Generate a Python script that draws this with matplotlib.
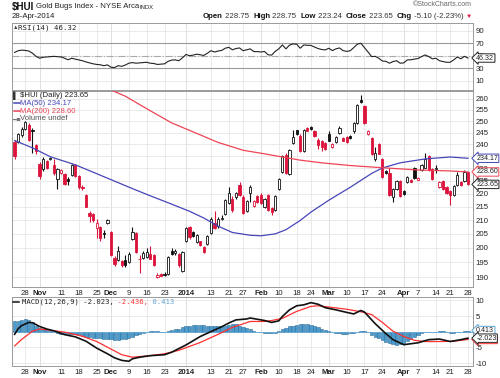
import numpy as np
import pandas as pd
import matplotlib
matplotlib.use("Agg")
import matplotlib.pyplot as plt
import matplotlib.transforms as mtransforms

plt.rcParams['font.family'] = ['Liberation Sans', 'DejaVu Sans']

# trading days shown
holidays = ["2013-11-28", "2013-12-25", "2014-01-01", "2014-01-20", "2014-02-17", "2014-04-18"]
days = pd.bdate_range("2013-10-23", "2014-04-28")
days = days[~days.isin(pd.to_datetime(holidays))]

opens = [241.0, 241.0, 243.8, 246.5, 248.5, 246.3, 239.7, 231.9, 229.6, 233.0,
         234.0, 231.4, 225.6, 228.0, 227.7, 225.8, 227.5, 231.6, 227.0, 222.6,
         219.7, 212.7, 212.4, 207.0, 207.4, 205.4, 208.9, 205.8, 196.5, 195.7,
         195.5, 195.7, 195.2, 203.0, 205.4, 196.2, 196.5, 196.8, 197.7, 197.4,
         189.9, 191.1, 190.8, 191.0, 198.9, 198.2, 197.9, 192.1, 202.3, 207.4,
         205.5, 202.1, 202.3, 200.3, 201.2, 205.2, 209.1, 207.7, 210.3, 212.4,
         216.4, 218.0, 218.7, 223.6, 218.9, 213.4, 220.2, 215.2, 219.0, 219.7,
         214.8, 219.7, 214.7, 213.9, 221.9, 228.4, 235.6, 227.6, 240.6, 245.9,
         243.4, 237.2, 246.9, 247.6, 245.8, 241.7, 241.3, 240.6, 244.4, 238.8,
         240.9, 244.8, 242.7, 243.0, 243.4, 245.5, 249.1, 259.6, 256.6, 244.4,
         242.7, 233.8, 240.2, 233.8, 229.0, 228.0, 218.7, 221.9, 225.0, 221.0,
         224.5, 225.3, 230.3, 225.5, 229.3, 230.3, 235.2, 229.7, 229.7, 222.5,
         225.0, 222.5, 221.2, 219.7, 223.6, 224.7, 225.0, 228.75]
highs = [242.0, 245.0, 247.3, 250.2, 249.0, 246.8, 240.3, 232.5, 234.5, 233.5,
         234.8, 234.0, 230.0, 229.6, 228.0, 226.6, 231.8, 232.0, 227.3, 223.4,
         220.0, 213.5, 212.8, 210.5, 207.8, 206.3, 210.6, 206.0, 197.0, 200.5,
         195.8, 197.5, 198.4, 207.4, 205.8, 197.5, 199.0, 200.0, 200.5, 197.8,
         191.4, 191.4, 191.6, 197.2, 200.0, 199.6, 198.2, 198.9, 207.4, 208.0,
         206.2, 205.0, 202.6, 200.6, 204.7, 211.0, 213.4, 211.0, 211.8, 217.8,
         222.6, 219.0, 220.8, 224.6, 219.5, 217.6, 223.5, 217.5, 219.7, 220.2,
         218.4, 220.0, 215.0, 219.5, 226.0, 235.4, 236.5, 237.9, 246.2, 246.3,
         244.5, 246.6, 247.6, 248.0, 246.2, 242.7, 241.7, 241.0, 245.8, 240.6,
         243.5, 247.7, 243.0, 243.4, 243.8, 249.5, 257.8, 261.8, 257.0, 246.2,
         243.2, 239.0, 240.6, 234.2, 229.5, 230.3, 222.3, 225.4, 225.4, 221.4,
         226.8, 225.6, 230.7, 226.4, 232.0, 236.4, 235.6, 230.0, 231.3, 224.9,
         225.4, 222.9, 221.6, 223.6, 228.4, 225.0, 229.3, 228.75]
lows = [234.0, 240.5, 243.0, 246.0, 241.5, 236.5, 236.0, 225.8, 229.0, 229.6,
        233.3, 227.5, 222.0, 227.6, 223.3, 223.4, 227.0, 226.5, 222.0, 221.3,
        214.8, 209.4, 209.2, 203.5, 202.5, 203.6, 208.5, 197.0, 193.8, 195.3,
        193.3, 193.4, 194.8, 202.7, 198.2, 191.5, 196.2, 196.5, 196.0, 193.6,
        189.6, 190.2, 190.2, 190.8, 197.5, 197.5, 193.5, 191.8, 202.0, 203.3,
        203.8, 201.8, 200.8, 198.3, 200.9, 205.0, 206.7, 207.3, 209.9, 212.0,
        216.0, 213.2, 218.0, 219.2, 212.3, 213.0, 216.8, 214.8, 216.4, 216.2,
        214.4, 213.5, 211.9, 213.5, 221.6, 228.0, 227.8, 227.2, 240.3, 244.1,
        236.8, 236.8, 245.5, 246.2, 243.0, 237.9, 237.2, 237.5, 241.2, 238.4,
        240.5, 244.4, 241.2, 240.6, 242.3, 245.0, 248.7, 258.0, 248.7, 244.0,
        235.4, 233.0, 235.8, 226.3, 227.6, 219.3, 217.0, 221.5, 218.6, 219.5,
        224.1, 224.4, 225.8, 225.2, 229.0, 230.0, 228.9, 225.4, 228.0, 222.2,
        221.5, 219.8, 215.5, 219.3, 223.2, 223.2, 224.6, 223.24]
closes = [235.0, 244.3, 246.7, 249.5, 242.0, 245.6, 237.2, 227.1, 234.0, 230.3,
          234.2, 228.0, 229.7, 229.3, 223.8, 225.1, 231.4, 226.9, 222.5, 222.3,
          215.1, 211.4, 210.0, 208.8, 203.4, 205.0, 210.0, 197.4, 194.3, 198.8,
          194.0, 194.2, 197.9, 205.8, 198.5, 196.0, 198.3, 198.5, 196.3, 194.0,
          190.7, 190.5, 190.7, 196.8, 197.9, 199.0, 193.9, 198.5, 207.0, 203.7,
          204.3, 204.5, 201.1, 198.6, 204.2, 210.6, 207.0, 210.6, 210.8, 217.4,
          220.2, 213.7, 220.2, 219.7, 212.8, 217.2, 222.8, 217.1, 216.8, 216.5,
          218.0, 213.9, 213.1, 219.0, 225.6, 235.0, 228.3, 237.5, 243.0, 244.5,
          237.2, 246.2, 245.8, 246.6, 243.4, 239.7, 238.8, 237.9, 241.6, 240.2,
          243.1, 246.9, 241.6, 241.0, 242.7, 249.1, 257.4, 258.6, 249.1, 245.8,
          235.8, 236.5, 236.1, 226.7, 228.0, 219.7, 221.9, 225.0, 219.0, 219.9,
          226.4, 224.7, 226.2, 226.0, 231.6, 233.9, 229.3, 225.8, 229.8, 224.5,
          221.9, 220.2, 219.7, 223.2, 227.5, 223.6, 228.7, 223.65]

ma50_idx = [0, 5, 10, 17, 24, 33, 38, 44, 49, 53, 57, 61, 66, 69, 73, 76, 80, 83, 88, 94,
            100, 103, 108, 115, 122, 127]
ma50_val = [241.6, 238.5, 234.8, 231.5, 227.3, 222.0, 219.2, 216.0, 213.3, 210.8, 207.8,
            205.5, 204.5, 204.3, 205.0, 206.5, 209.9, 213.0, 217.5, 222.5, 228.0, 230.2,
            232.3, 233.9, 234.7, 234.17]
ma200_idx = [25, 31, 38, 44, 50, 57, 64, 70, 75, 80, 86, 94, 103, 113, 122, 127]
ma200_val = [265.5, 261.2, 254.6, 249.2, 245.3, 240.8, 237.5, 236.0, 234.7, 233.4, 232.3,
             231.2, 230.3, 229.4, 229.0, 228.6]

rsi = [55.3, 58, 59, 58.5, 57.5, 54, 49, 46, 47.5, 48, 48.6, 49, 48.5, 48, 46, 43.5, 46,
       44.5, 43.3, 42, 40, 38.5, 37, 36, 35.5, 34, 35.3, 31.5, 31, 34, 33, 35, 38, 39, 38,
       38.5, 39, 39.5, 38, 37.5, 36, 36.5, 37, 41, 43, 43.3, 42, 46.5, 52, 50, 51, 52.5,
       51.5, 50.5, 54, 58, 56, 57.5, 58.5, 62, 63.5, 59.5, 61.5, 62.5, 58, 59.5, 61, 56.6,
       56.6, 56, 56.8, 51.5, 51, 57, 61, 67.3, 61, 67, 69, 68.5, 62, 67.3, 66.8, 66.5, 64,
       61.5, 60, 59.3, 62, 58.2, 61, 62.5, 58.2, 57, 58, 63, 68.5, 70, 63, 56, 48.6, 49,
       46, 41.5, 41, 38, 40.6, 42, 38, 38.5, 43.3, 43.5, 44.6, 45.5, 48.6, 51.3, 48.6, 45,
       46, 42, 40.6, 39.5, 39.5, 43.3, 48, 45, 49, 46.32]

macd_idx = [0, 1, 2, 4, 5, 7, 9, 11, 14, 17, 20, 23, 26, 28, 30, 32, 33, 35, 38, 42,
            44, 48, 52, 56, 58, 60, 62, 65, 66, 70, 72, 74, 75, 77, 79, 81, 83, 85, 87, 90,
            93, 95, 97, 98, 101, 104, 106, 109, 111, 113, 116, 119, 122, 125, 127]
macd_val = [-0.8, 1.0, 2.0, 3.0, 2.9, 1.7, 0.9, 0.3, -0.9, -1.6, -3.0, -5.2, -7.0, -8.3,
            -9.1, -9.4, -8.6, -8.1, -7.6, -7.3, -6.5, -4.2, -1.5, 0.6, 1.6, 2.8, 3.8, 4.1,
            4.4, 3.6, 3.0, 3.5, 4.9, 7.0, 8.3, 8.6, 9.3, 8.8, 7.7, 7.0, 6.2, 5.7, 6.8, 6.3,
            2.6, -0.6, -2.5, -4.1, -3.8, -3.5, -2.5, -2.3, -3.1, -2.5, -2.023]
sig_idx = [0, 2, 5, 7, 10, 14, 19, 23, 27, 30, 33, 38, 42, 46, 52, 57, 61, 66, 70, 72,
           75, 79, 83, 85, 88, 93, 97, 100, 103, 106, 109, 112, 115, 119, 123, 127]
sig_val = [-4.5, -2.4, 0.2, 0.9, 0.5, -0.1, -1.4, -3.1, -5.5, -7.3, -8.1, -7.6, -7.0, -5.9,
           -3.4, -0.8, 1.4, 3.3, 3.3, 3.6, 4.3, 6.5, 8.1, 8.3, 7.9, 7.2, 6.4, 5.5, 3.0, 0.2,
           -1.5, -2.7, -3.1, -3.1, -3.0, -2.436]
hist = [3.3, 3.5, 3.9, 4.2, 3.8, 3.0, 2.0, 1.3, 0.9, 0.5, 0.2, -0.2, -0.4, -0.6, -0.7, -0.7,
        -0.7, -0.8, -0.9, -1.2, -1.5, -1.7, -1.9, -2.0, -2.1, -2.2, -2.3, -2.4, -2.5, -2.5,
        -2.4, -2.3, -2.0, -1.5, -1.0, -0.6, -0.3, 0.1, 0.3, 0.3, 0.2, 0.1, 0.0, 0.3, 0.6, 0.8,
        1.0, 1.4, 1.7, 1.9, 2.1, 2.2, 2.2, 2.1, 2.0, 1.8, 1.7, 1.7, 1.8, 1.9, 2.2, 2.5, 2.4,
        2.0, 1.5, 1.2, 0.8, 0.4, 0.0, -0.2, -0.4, -0.5, -0.5, -0.3, 0.3, 0.8, 1.3, 1.7, 2.0,
        2.2, 2.4, 2.5, 2.4, 2.2, 1.9, 1.5, 1.0, 0.6, 0.2, -0.2, -0.4, -0.5, -0.6, -0.6, -0.5,
        -0.3, 0.1, 0.4, 0.3, -0.2, -0.9, -1.5, -2.1, -2.7, -3.2, -3.6, -3.9, -4.1, -4.0, -3.6,
        -3.0, -2.4, -1.8, -1.0, -0.5, -0.1, 0.1, 0.1, 0.1, 0.3, 0.2, -0.1, -0.4, -0.4, -0.2,
        0.1, 0.3, 0.413]

tick_dates = ["2013-10-28", "2013-11-01", "2013-11-11", "2013-11-18", "2013-11-25",
              "2013-12-02", "2013-12-09", "2013-12-16", "2013-12-23", "2014-01-02",
              "2014-01-13", "2014-01-21", "2014-01-27", "2014-02-03", "2014-02-10",
              "2014-02-18", "2014-02-24", "2014-03-03", "2014-03-10", "2014-03-17",
              "2014-03-24", "2014-04-01", "2014-04-07", "2014-04-14", "2014-04-21",
              "2014-04-28"]
tick_labels = ["28", "Nov", "11", "18", "25", "Dec", "9", "16", "23", "2014", "13", "21",
               "27", "Feb", "10", "18", "24", "Mar", "10", "17", "24", "Apr", "7", "14",
               "21", "28"]
month_labels = ["Nov", "Dec", "2014", "Feb", "Mar", "Apr"]
price_ticks = list(range(190, 265, 5))

RED = '#dc143c'
BLUE = '#4646b8'
RED2 = '#ee4455'
GRID = '#e6e6e6'
MGRID = '#bdbdbd'
FS = 5.6

W, H = 500, 378
fig = plt.figure(figsize=(W / 100, H / 100), dpi=100)


def px_axes(l, t, r, b):
    return fig.add_axes([l / W, 1 - b / H, (r - l) / W, (b - t) / H])


def ftext(x, y, s, **kw):
    return fig.text(x / W, 1 - y / H, s, va='center', **kw)


ax_r = px_axes(12, 23, 473, 90)
ax_p = px_axes(12, 91, 473, 287)
ax_m = px_axes(12, 297, 473, 366)

x = np.arange(len(closes))
tick_pos = [days.get_loc(pd.Timestamp(d)) for d in tick_dates]
month_pos = [p for p, lab in zip(tick_pos, tick_labels) if lab in month_labels]

for ax in (ax_r, ax_p, ax_m):
    ax.set_xlim(-0.73, 128.4)
    ax.set_xticks(tick_pos)
    ax.grid(axis='x', color=GRID, lw=0.6)
    for p in month_pos:
        ax.axvline(p, color=MGRID, lw=0.6, zorder=0.8)
    ax.yaxis.tick_right()
    ax.tick_params(axis='both', length=0, labelsize=FS, colors='#222222', pad=2)
    for s in ax.spines.values():
        s.set_color('#9a9a9a')
        s.set_linewidth(0.7)
    if ax is ax_r:
        ax.set_xticklabels([])
    else:
        ax.set_xticklabels(tick_labels)
        for t in ax.get_xticklabels():
            if t.get_text() in month_labels:
                t.set_fontweight('bold')

blend = lambda ax: mtransforms.blended_transform_factory(ax.transAxes, ax.transData)


def tag(ax, y, s, ec):
    ax.text(1.007, y, s, transform=blend(ax), ha='left', va='center', fontsize=5.1,
            color='#222222', clip_on=False, zorder=6,
            bbox=dict(boxstyle='larrow,pad=0.1', fc='white', ec=ec, lw=0.7))


# ---- RSI panel
ax_r.set_ylim(-5, 102.5)
ax_r.set_yticks([10, 30, 50, 70, 90])
ax_r.grid(axis='y', color=GRID, lw=0.6)
ax_r.axhline(70, color='#9a9a9a', lw=0.8)
ax_r.axhline(30, color='#9a9a9a', lw=0.8)
ax_r.axhline(50, color='#aaaaaa', lw=0.8, ls='-.')
ax_r.plot(x, rsi, color='#222222', lw=0.8)
tag(ax_r, rsi[-1], "46.32", '#222222')
ax_r.text(0.002, 0.93, "\u25b2", transform=ax_r.transAxes, fontsize=4, color='#444444',
          va='center')
ax_r.text(0.014, 0.93, "RSI(14) 46.32", transform=ax_r.transAxes, fontsize=5.3,
          family='DejaVu Sans Mono', va='center', color='#222222')

# ---- price panel
ax_p.set_yscale('log')
ax_p.set_ylim(186.7, 263.6)
ax_p.set_yticks(price_ticks)
ax_p.set_yticklabels([str(v) for v in price_ticks])
ax_p.yaxis.set_minor_locator(matplotlib.ticker.NullLocator())
ax_p.grid(axis='y', color=GRID, lw=0.6)

o = np.array(opens)
c = np.array(closes)
hi = np.array(highs)
lo = np.array(lows)
prev = np.r_[c[0] + 1, c[:-1]]
cols = np.where(c >= prev, '#111111', RED)
faces = np.where(c >= o, 'white', cols)
ax_p.vlines(x, lo, hi, colors=cols, lw=0.8, zorder=2)
body_lo = np.minimum(o, c)
body_h = np.maximum(np.abs(c - o), 0.3)
ax_p.bar(x, body_h, bottom=body_lo, width=0.62, color=faces, edgecolor=cols,
         linewidth=0.6, zorder=3)
ax_p.plot(ma50_idx, ma50_val, color=BLUE, lw=0.9, zorder=4)
ax_p.plot(ma200_idx, ma200_val, color=RED2, lw=0.9, zorder=4)
tag(ax_p, 228.60, "228.60", RED2)
tag(ax_p, 234.17, "234.17", BLUE)
tag(ax_p, 223.65, "223.65", '#222222')

legend = [("$HUI (Daily) 223.65", '#222222', '#222222'),
          ("MA(50) 234.17", BLUE, BLUE),
          ("MA(200) 228.60", RED2, RED2),
          ("Volume undef", '#555555', '#777777')]
for k, (s, col, hcol) in enumerate(legend):
    yy = 95.5 + 7.8 * k
    if k in (1, 2):
        fig.add_artist(plt.Line2D([13.5 / W, 20 / W], [1 - yy / H] * 2, color=hcol, lw=1.1))
        ftext(20.5, yy, s, fontsize=FS, color=col)
    elif k == 0:
        ftext(13, yy, "\u258c", fontsize=5, color='#333333')
        ftext(20.5, yy, s.replace("$", r"\$"), fontsize=FS, color=col)
    else:
        ftext(13, yy, "\u2582\u2584", fontsize=3.5, color=hcol)
        ftext(20.5, yy, s, fontsize=FS, color=col)

# ---- MACD panel
ax_m.set_ylim(-10.9, 11.1)
ax_m.set_yticks([-10, -5, 0, 5, 10])
ax_m.set_yticklabels(["-10", "-5", "0", "5", "10"])
ax_m.grid(axis='y', color=GRID, lw=0.6)
ax_m.bar(x, hist, width=0.9, color='#4d9bcc', edgecolor='#2d6f9c', linewidth=0.4,
         zorder=2)
ax_m.axhline(0, color='#6aaad6', lw=0.6, zorder=2)
ax_m.plot(sig_idx, sig_val, color='#ff3030', lw=0.9, zorder=3)
ax_m.plot(macd_idx, macd_val, color='#111111', lw=1.2, zorder=4)
tag(ax_m, 0.413, "0.413", '#5ba3d0')
tag(ax_m, -2.436, "-2.436", '#ff3030')
tag(ax_m, -2.023, "-2.023", '#222222')

fig.add_artist(plt.Line2D([13 / W, 19 / W], [1 - 302 / H] * 2, color='#111111', lw=1.1))
t = ftext(21.5, 302, "MACD(12,26,9) -2.023,", fontsize=5.2, family='DejaVu Sans Mono',
          color='#222222')
t = ax_m.annotate(" -2.436,", xy=(1, 0.5), xycoords=t, va='center', ha='left', fontsize=5.2,
                  family='DejaVu Sans Mono', color='#ff3030', annotation_clip=False)
t = ax_m.annotate(" 0.413", xy=(1, 0.5), xycoords=t, va='center', ha='left', fontsize=5.2,
                  family='DejaVu Sans Mono', color='#5ba3d0', annotation_clip=False)

# ---- header
ftext(12, 7, r"\$HUI", fontsize=7, fontweight='bold', color='#111111')
ftext(36, 7, "Gold Bugs Index - NYSE Arca", fontsize=5.6, color='#222222')
ftext(139, 7.5, "INDX", fontsize=4.2, color='#222222')
ftext(12, 16, "28-Apr-2014", fontsize=5.6, color='#222222')
ftext(472, 5, "\u00a9StockCharts.com", fontsize=5, color='#666666', ha='right')

pieces = [("\u25bc", RED, 'normal'), (" -5.10 (-2.23%) ", '#333333', 'normal'),
          ("Chg", '#111111', 'bold'), (" 223.65  ", '#333333', 'normal'),
          ("Close", '#111111', 'bold'), (" 223.24  ", '#333333', 'normal'),
          ("Low", '#111111', 'bold'), (" 228.75  ", '#333333', 'normal'),
          ("High", '#111111', 'bold'), (" 228.75  ", '#333333', 'normal'),
          ("Open", '#111111', 'bold')]
t = ftext(472, 16, pieces[0][0], fontsize=4.5, color=pieces[0][1], ha='right')
for s, col, wt in pieces[1:]:
    t = ax_p.annotate(s, xy=(0, 0.5), xycoords=t, va='center', ha='right', fontsize=5.6,
                      color=col, fontweight=wt, annotation_clip=False)

fig.savefig("out.png", dpi=100, facecolor='white')
